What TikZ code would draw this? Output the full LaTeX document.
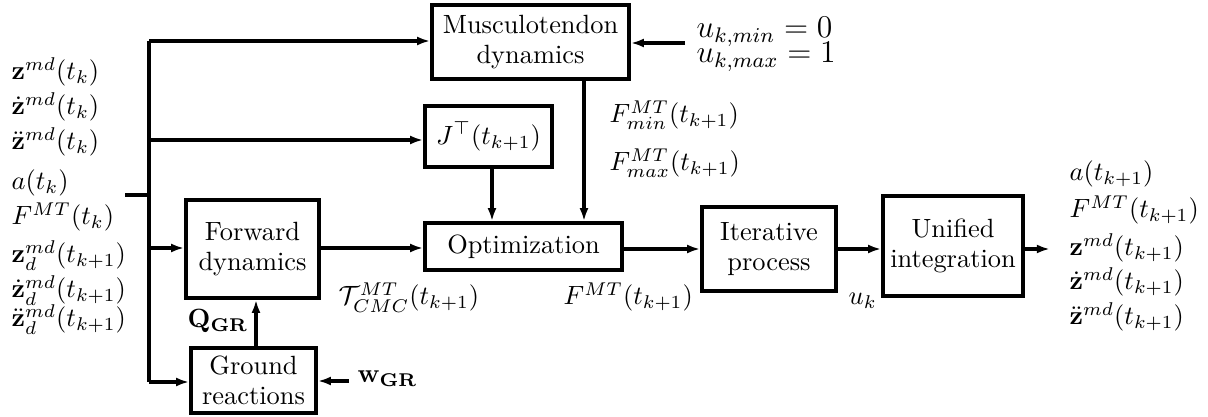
\documentclass[tikz,border=0pt]{standalone}
\usepackage{amsmath,amssymb}
\usetikzlibrary{arrows.meta,calc}
\begin{document}
\begin{tikzpicture}[x=0.379pt,y=-0.379pt,
  line width=1.3pt,
  blk/.style 2 args={draw, line width=1.3pt, minimum width=#1*0.379pt, minimum height=#2*0.379pt, inner sep=0pt, align=center, font=\fontsize{10}{11.6}\selectfont},
  arr/.style={-{Latex[length=5pt,width=3.4pt]}, line width=1.3pt},
  lab/.style={inner sep=0pt, font=\fontsize{10}{12}\selectfont},
  lw/.style={lab, anchor=base west},
  lwbig/.style={lw, font=\fontsize{11.5}{13.8}\selectfont}]
\useasboundingbox (0,0) rectangle (1208,417);
% boxes
\node[blk={197}{74}] (musc) at (530.5,42) {Musculotendon\\dynamics};
\node[blk={127}{61}] (jac) at (488.5,136.5) {$J^{\top}(t_{k+1})$};
\node[blk={133}{98}] (fwd) at (252.5,249) {Forward\\dynamics};
\node[blk={125}{65}] (grd) at (253.5,380.5) {Ground\\reactions};
\node[blk={197}{47}] (opt) at (523.5,246.5) {Optimization};
\node[blk={134}{84}] (itr) at (769,249) {Iterative\\process};
\node[blk={140}{100}] (uni) at (953,246) {Unified\\integration};
% left labels
\node[lw] (l1) at (10,80) {$\mathbf{z}^{md}(t_k)$};
\node[lw] (l2) at (10,115) {$\dot{\mathbf{z}}^{md}(t_k)$};
\node[lw] (l3) at (10,150) {$\ddot{\mathbf{z}}^{md}(t_k)$};
\node[lw] (l4) at (10,190) {$a(t_k)$};
\node[lw] (l5) at (10,225) {$F^{MT}(t_k)$};
\node[lw] (l6) at (10,263) {$\mathbf{z}_d^{md}(t_{k+1})$};
\node[lw] (l7) at (10,298) {$\dot{\mathbf{z}}_d^{md}(t_{k+1})$};
\node[lw] (l8) at (10,327) {$\ddot{\mathbf{z}}_d^{md}(t_{k+1})$};
% right labels
\node[lw] (r1) at (1068,181) {$a(t_{k+1})$};
\node[lw] (r2) at (1068,218) {$F^{MT}(t_{k+1})$};
\node[lw] (r3) at (1068,256) {$\mathbf{z}^{md}(t_{k+1})$};
\node[lw] (r4) at (1068,290) {$\dot{\mathbf{z}}^{md}(t_{k+1})$};
\node[lw] (r5) at (1068,325) {$\ddot{\mathbf{z}}^{md}(t_{k+1})$};
% other labels
\node[lwbig] (umin) at (695,38) {$u_{k,min} = 0$};
\node[lwbig] (umax) at (695,63) {$u_{k,max} = 1$};
\node[lw] (fmin) at (608,123) {$F^{MT}_{min}(t_{k+1})$};
\node[lw] (fmax) at (608,171) {$F^{MT}_{max}(t_{k+1})$};
\node[lw] (tcmc) at (337,305) {$\mathcal{T}^{MT}_{CMC}(t_{k+1})$};
\node[lw] (fmt) at (562,305) {$F^{MT}(t_{k+1})$};
\node[lw] (uk) at (847,305) {$u_k$};
\node[lw] (qgr) at (186,328) {$\mathbf{Q}_{\mathbf{GR}}$};
\node[lw] (wgr) at (356,383) {$\mathbf{w}_{\mathbf{GR}}$};
% coordinates
\coordinate (in) at (125,195);
\coordinate (tin) at (149,195);
\coordinate (t1) at (149,41);
\coordinate (t2) at (149,140);
\coordinate (t3) at (149,248);
\coordinate (t4) at (149,382);
\coordinate (wsrc) at (349,381);
\coordinate (usrc) at (685,43);
\coordinate (mx) at (584,0);
\coordinate (jx) at (492,0);
\coordinate (gx) at (256,0);
\coordinate (out) at (1050,249);
% connectors
\draw (in) -- (tin);
\draw (t1) -- (t4);
\draw[arr] (t1) -- (t1 -| musc.west);
\draw[arr] (t2) -- (t2 -| jac.west);
\draw[arr] (t3) -- (t3 -| fwd.west);
\draw[arr] (t4) -- (t4 -| grd.west);
\draw[arr] (grd.north -| gx) -- (fwd.south -| gx);
\draw[arr] (wsrc) -- (wsrc -| grd.east);
\draw[arr] (usrc) -- (usrc -| musc.east);
\draw[arr] (t3 -| fwd.east) -- (t3 -| opt.west);
\draw[arr] (jac.south -| jx) -- (opt.north -| jx);
\draw[arr] (musc.south -| mx) -- (opt.north -| mx);
\draw[arr] (out -| opt.east) -- (out -| itr.west);
\draw[arr] (out -| itr.east) -- (out -| uni.west);
\draw[arr] (out -| uni.east) -- (out);
\end{tikzpicture}
\end{document}
